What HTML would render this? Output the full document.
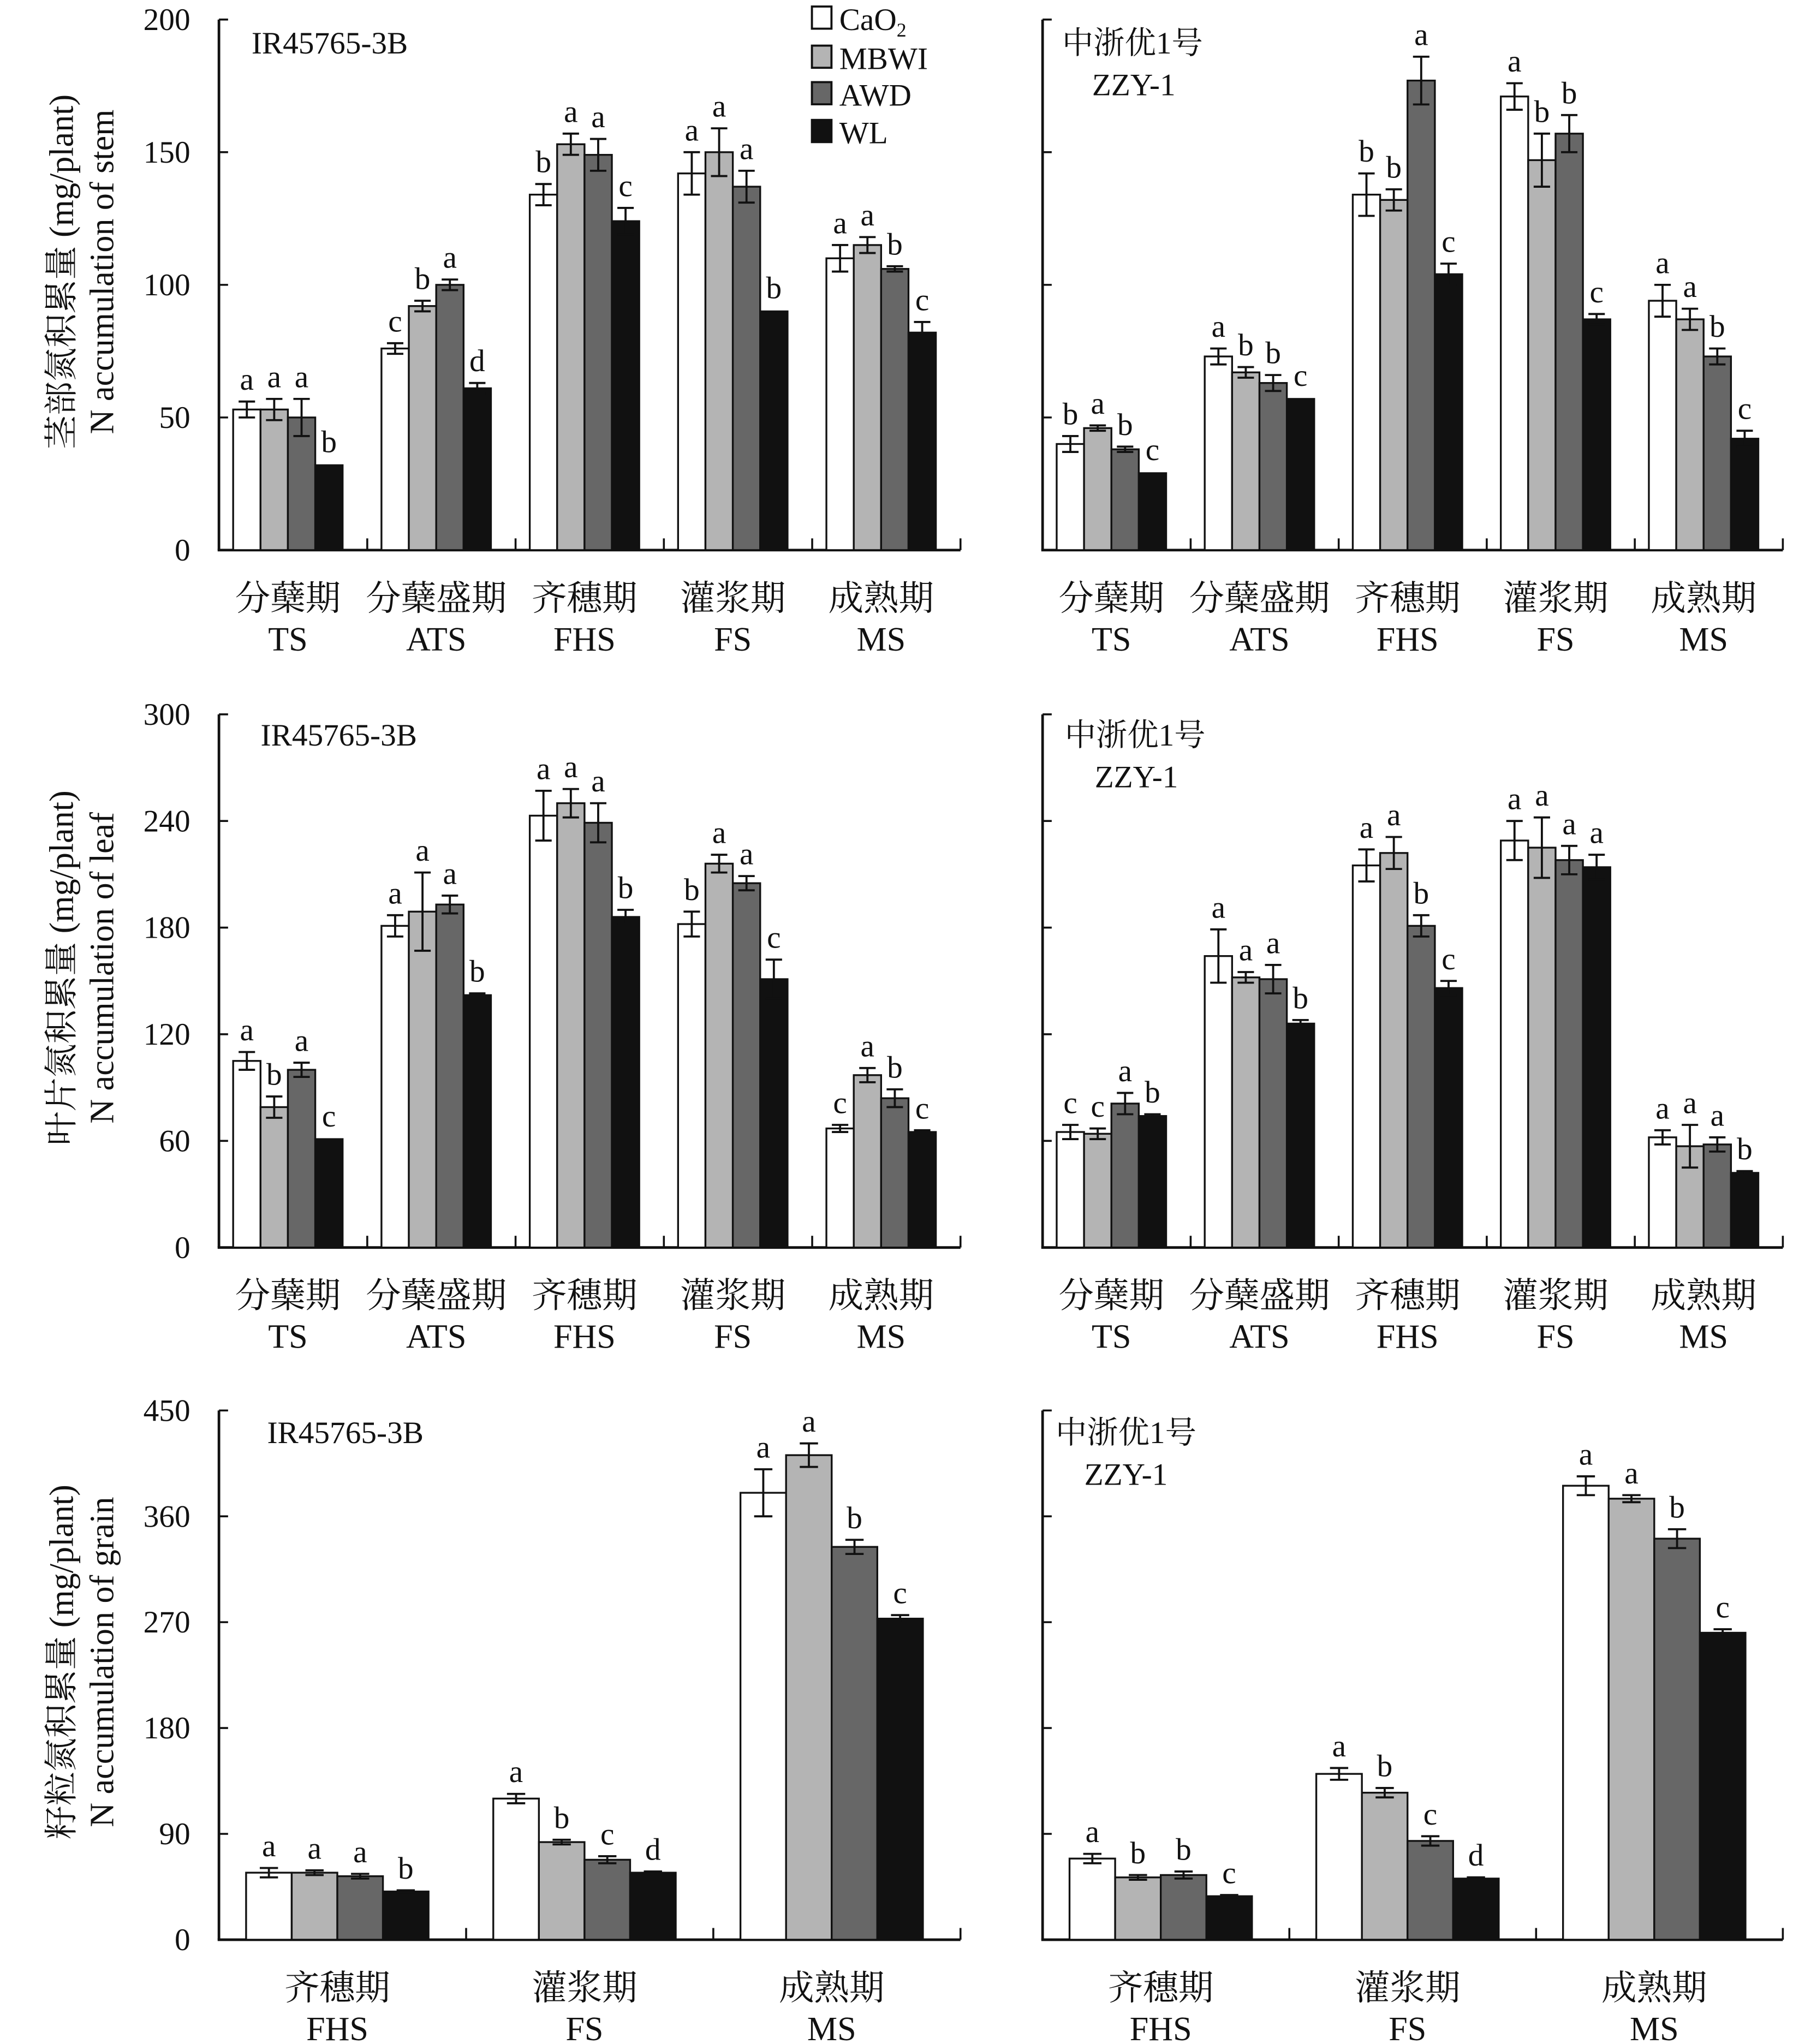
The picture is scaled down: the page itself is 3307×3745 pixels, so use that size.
<!DOCTYPE html>
<html><head><meta charset="utf-8"><style>
html,body{margin:0;padding:0;background:#fff}
svg{display:block}
text{font-family:"Liberation Serif","Noto Serif CJK SC","Noto Sans CJK SC",serif;fill:#111}
</style></head><body>
<svg id="fig" xmlns="http://www.w3.org/2000/svg" width="3307" height="3745" viewBox="0 0 1385 1568" preserveAspectRatio="none"></svg>
<script>
const series = ["CaO2","MBWI","AWD","WL"];
const fills = ["#ffffff","#b4b4b4","#676767","#111111"];
const catsZh5 = ["分蘖期","分蘖盛期","齐穗期","灌浆期","成熟期"];
const catsEn5 = ["TS","ATS","FHS","FS","MS"];
const catsZh3 = ["齐穗期","灌浆期","成熟期"];
const catsEn3 = ["FHS","FS","MS"];
const stemTicks = [0,50,100,150,200];
const leafTicks = [0,60,120,180,240,300];
const grainTicks = [0,90,180,270,360,450];

const stemL = [[53,53,50,32],[76,92,100,61],[134,153,149,124],[142,150,137,90],[110,115,106,82]];
const stemLErr = [[3,4,7,0.5],[2,2,2,2],[4,4,6,5],[8,9,6,0.5],[5,3,1,4]];
const stemLSig = [["a","a","a","b"],["c","b","a","d"],["b","a","a","c"],["a","a","a","b"],["a","a","b","c"]];
const stemR = [[40,46,38,29],[73,67,63,57],[134,132,177,104],[171,147,157,87],[94,87,73,42]];
const stemRErr = [[3,1,1,0.5],[3,2,3,0.5],[8,4,9,4],[5,10,7,2],[6,4,3,3]];
const stemRSig = [["b","a","b","c"],["a","b","b","c"],["b","b","a","c"],["a","b","b","c"],["a","a","b","c"]];

const leafL = [[105,79,100,61],[181,189,193,142],[243,250,239,186],[182,216,205,151],[67,97,84,65]];
const leafLErr = [[5,6,4,0.5],[6,22,5,1],[14,8,11,4],[7,5,4,11],[2,4,5,1]];
const leafLSig = [["a","b","a","c"],["a","a","a","b"],["a","a","a","b"],["b","a","a","c"],["c","a","b","c"]];
const leafR = [[65,64,81,74],[164,152,151,126],[215,222,181,146],[229,225,218,214],[62,57,58,42]];
const leafRErr = [[4,3,6,1],[15,3,8,2],[9,9,6,4],[11,17,8,7],[4,12,4,1]];
const leafRSig = [["c","c","a","b"],["a","a","a","b"],["a","a","b","c"],["a","a","a","a"],["a","a","a","b"]];

const grainL = [[57,57,54,41],[120,83,68,57],[380,412,334,273]];
const grainLErr = [[4,2,2,1],[4,2,3,1],[20,10,6,3]];
const grainLSig = [["a","a","a","b"],["a","b","c","d"],["a","a","b","c"]];
const grainR = [[69,53,55,37],[141,125,84,52],[386,375,341,261]];
const grainRErr = [[4,2,3,1],[5,4,4,1],[8,3,8,3]];
const grainRSig = [["a","b","b","c"],["a","b","c","d"],["a","a","b","c"]];

const NS="http://www.w3.org/2000/svg";
const svg=document.getElementById('fig');
function mk(tag,attrs,parent){const e=document.createElementNS(NS,tag);for(const k in attrs)e.setAttribute(k,attrs[k]);(parent||svg).appendChild(e);return e;}

function panel(o){
  const g=mk('g',{});
  
  
  const max=o.ticks[o.ticks.length-1];
  const y=v=>o.y0-(v/max)*(o.y0-o.ytop);
  const n=o.vals.length, gw=(o.x1-o.x0)/n;
  const ya=mk('line',{x1:o.x0,y1:o.ytop,x2:o.x0,y2:o.y0,stroke:'#111','stroke-width':2},g);
  
  
  const xa=mk('line',{x1:o.x0-1,y1:o.y0,x2:o.x1,y2:o.y0,stroke:'#111','stroke-width':2},g);
  
  
  o.ticks.forEach(t=>{
    mk('line',{x1:o.x0,y1:y(t),x2:o.x0+7,y2:y(t),stroke:'#111','stroke-width':1.5},g);
    if(o.labels){const tl=mk('text',{x:o.x0-22,y:y(t)+8,'font-size':24,'text-anchor':'end'},g);tl.textContent=t;
      
      }
  });
  for(let i=1;i<=n;i++){mk('line',{x1:o.x0+i*gw,y1:o.y0,x2:o.x0+i*gw,y2:o.y0-9,stroke:'#111','stroke-width':1.5},g);}
  const bw=o.bw, off=(gw-4*bw)/2+o.shift;
  o.vals.forEach((vs,i)=>{
    const cx=o.x0+i*gw+gw/2+o.shift;
    vs.forEach((v,j)=>{
      const bx=o.x0+i*gw+off+j*bw;
      const r=mk('rect',{x:bx,y:y(v),width:bw,height:o.y0-y(v),fill:fills[j],stroke:'#111','stroke-width':1.4},g);
      
      
      const e=o.err[i][j], ex=bx+bw/2, cap=Math.min(7,bw*0.3);
      if(e>0.6){
        mk('line',{x1:ex,y1:y(v+e),x2:ex,y2:y(v-e),stroke:'#111','stroke-width':1.6},g);
        mk('line',{x1:ex-cap,y1:y(v+e),x2:ex+cap,y2:y(v+e),stroke:'#111','stroke-width':1.6},g);
        mk('line',{x1:ex-cap,y1:y(v-e),x2:ex+cap,y2:y(v-e),stroke:'#111','stroke-width':1.6},g);
      }
      const st=mk('text',{x:ex,y:y(v+e)-9,'font-size':24,'text-anchor':'middle'},g);
      st.textContent=o.sig[i][j];
      
      
    });
    const z=mk('text',{x:cx,y:o.y0+46,'font-size':27,'text-anchor':'middle'},g);
    z.textContent=o.zh[i];
    
    
    const en=mk('text',{x:cx,y:o.y0+77,'font-size':26,'text-anchor':'middle'},g);
    en.textContent=o.en[i];
    
    
  });
  o.title.forEach(tt=>{const t=mk('text',{x:tt[0],y:tt[1],'font-size':24},g);t.textContent=tt[2];
    
    });
  if(o.ylab){
    const cy=(o.ytop+o.y0)/2-10;
    const a=mk('text',{x:0,y:0,'font-size':26,'text-anchor':'middle',transform:`translate(56,${cy}) rotate(-90)`},g);
    a.textContent=o.ylab[0];
    
    
    const b=mk('text',{x:0,y:0,'font-size':26,'text-anchor':'middle',transform:`translate(87,${cy}) rotate(-90)`},g);
    b.textContent=o.ylab[1];
    
    
  }
}

panel({name:'stem-left-panel',x0:168,x1:737,ytop:15,y0:422,ticks:stemTicks,labels:true,vals:stemL,err:stemLErr,sig:stemLSig,zh:catsZh5,en:catsEn5,bw:21,shift:-4,title:[[193,41,'IR45765-3B']],ylab:['茎部氮积累量 (mg/plant)','N accumulation  of stem']});
panel({name:'stem-right-panel',x0:800,x1:1368,ytop:15,y0:422,ticks:stemTicks,labels:false,vals:stemR,err:stemRErr,sig:stemRSig,zh:catsZh5,en:catsEn5,bw:21,shift:-4,title:[[815,41,'中浙优1号'],[838,73,'ZZY-1']]});
panel({name:'leaf-left-panel',x0:168,x1:737,ytop:548,y0:957,ticks:leafTicks,labels:true,vals:leafL,err:leafLErr,sig:leafLSig,zh:catsZh5,en:catsEn5,bw:21,shift:-4,title:[[200,572,'IR45765-3B']],ylab:['叶片氮积累量 (mg/plant)','N accumulation of  leaf']});
panel({name:'leaf-right-panel',x0:800,x1:1368,ytop:548,y0:957,ticks:leafTicks,labels:false,vals:leafR,err:leafRErr,sig:leafRSig,zh:catsZh5,en:catsEn5,bw:21,shift:-4,title:[[817,572,'中浙优1号'],[840,604,'ZZY-1']]});
panel({name:'grain-left-panel',x0:168,x1:737,ytop:1082,y0:1488,ticks:grainTicks,labels:true,vals:grainL,err:grainLErr,sig:grainLSig,zh:catsZh3,en:catsEn3,bw:35,shift:-4,title:[[205,1107,'IR45765-3B']],ylab:['籽粒氮积累量 (mg/plant)','N accumulation of grain']});
panel({name:'grain-right-panel',x0:800,x1:1368,ytop:1082,y0:1488,ticks:grainTicks,labels:false,vals:grainR,err:grainRErr,sig:grainRSig,zh:catsZh3,en:catsEn3,bw:35,shift:-4,title:[[810,1107,'中浙优1号'],[832,1139,'ZZY-1']]});

const lg=mk('g',{});


const ly=[5,35,63,92];
series.forEach((s,j)=>{
  const r=mk('rect',{x:623,y:ly[j],width:15,height:17,fill:fills[j],stroke:'#111','stroke-width':1.6},lg);
  
  
  const t=mk('text',{x:644,y:ly[j]+18,'font-size':24},lg);
  
  
  if(s==='CaO2'){t.textContent='CaO';const sub=mk('tspan',{'font-size':15,dy:5},t);sub.textContent='2';}
  else t.textContent=s;
});
</script>
</body></html>
